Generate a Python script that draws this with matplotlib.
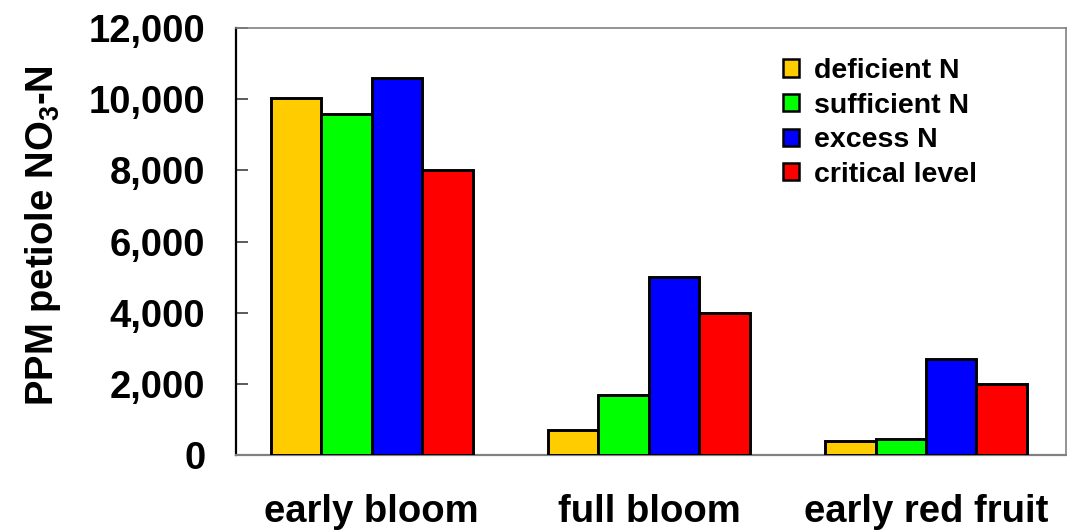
import numpy as np
import matplotlib
matplotlib.use('Agg')
import matplotlib.pyplot as plt
from matplotlib.ticker import FuncFormatter

# petiole nitrate readings by growth stage
stages = ['early bloom', 'full bloom', 'early red fruit']
deficient = [10050, 700, 400]
sufficient = [9600, 1700, 450]
excess = [10600, 5000, 2700]
critical = [8000, 4000, 2000]
yticks = [0, 2000, 4000, 6000, 8000, 10000, 12000]

series = [
    ('deficient N', deficient, '#FFCC00'),
    ('sufficient N', sufficient, '#00FF00'),
    ('excess N', excess, '#0000FF'),
    ('critical level', critical, '#FF0000'),
]

plt.rcParams['font.family'] = ['Liberation Sans', 'DejaVu Sans']
plt.rcParams['font.weight'] = 'bold'

fig = plt.figure(figsize=(10.67, 5.32), dpi=100)
ax = fig.add_axes([0.2212, 0.1447, 0.7778, 0.8023])

x = np.arange(len(stages))
w = 0.182
for i, (name, vals, color) in enumerate(series):
    ax.bar(x + (i - 1.5) * w, vals, width=w, color=color,
           edgecolor='black', linewidth=2.1, label=name, zorder=3)

ax.set_xlim(-0.49, 2.505)
ax.set_ylim(0, 12000)
ax.set_yticks(yticks)
ax.yaxis.set_major_formatter(FuncFormatter(lambda v, p: f'{int(v):,}'))
ax.set_xticks(x)
ax.set_xticklabels(stages)

ax.tick_params(axis='y', direction='in', length=8.5, width=1.2,
               color='#404040', labelsize=27.5, pad=22)
ax.tick_params(axis='x', length=0, labelsize=27.5, pad=28)

ax.spines['left'].set_color('black')
ax.spines['left'].set_linewidth(1.6)
for side in ['top', 'right', 'bottom']:
    ax.spines[side].set_color('#808080')
    ax.spines[side].set_linewidth(1.2)
ax.spines['bottom'].set_linewidth(1.6)

ax.set_ylabel(r'PPM petiole NO$_\mathregular{3}$-N', fontsize=27.5,
              fontweight='bold', va='center')
ax.yaxis.set_label_coords(-0.232, 0.515)

leg = ax.legend(loc='upper left', bbox_to_anchor=(0.659, 0.93),
                frameon=False, fontsize=20.5, handlelength=0.55,
                handleheight=0.55, handletextpad=0.55, labelspacing=0.3,
                borderpad=0, borderaxespad=0)
for h in leg.legend_handles:
    h.set_linewidth(1.8)

fig.savefig('out.png', dpi=100)
